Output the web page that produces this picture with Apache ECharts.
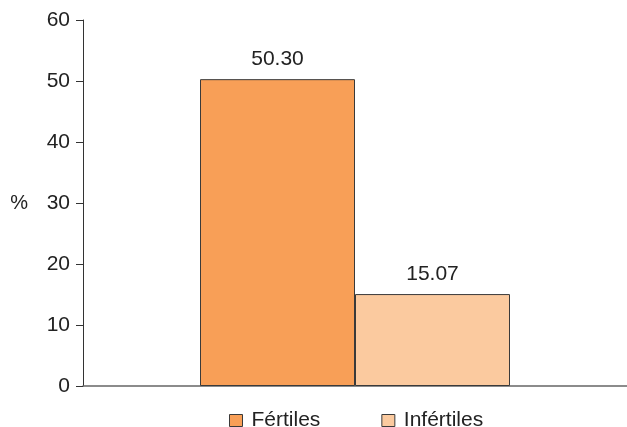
<!DOCTYPE html>
<html><head><meta charset="utf-8">
<script src="https://cdn.jsdelivr.net/npm/echarts@6/dist/echarts.min.js"></script>
<style>html,body{margin:0;padding:0;background:#fff}#c{width:627px;height:427px}</style>
</head><body><div id="c"></div>
<script>
const categories = [''];
const seriesNames = ['Fértiles', 'Infértiles'];
const fertiles = [50.30];
const infertiles = [15.07];
const yTicks = [0, 10, 20, 30, 40, 50, 60];

const font = 'Liberation Sans, Arial, sans-serif';
const chart = echarts.init(document.getElementById('c'));
chart.setOption({
  animation: false,
  grid: { left: 83, right: 0, top: 20, bottom: 41 },
  legend: {
    data: seriesNames, left: 229, top: 410, padding: 0, itemWidth: 13, itemHeight: 12, itemGap: 61,
    icon: 'rect',
    itemStyle: { borderColor: '#3a3a3a', borderWidth: 1 },
    textStyle: { fontFamily: font, fontSize: 21, color: '#222', padding: [0,0,0,4] }
  },
  xAxis: {
    type: 'category', data: categories,
    axisLine: { lineStyle: { color: '#666', width: 1.5 } },
    axisTick: { show: false }, axisLabel: { show: false }
  },
  yAxis: {
    type: 'value', min: yTicks[0], max: yTicks[yTicks.length-1], interval: 10,
    name: '%', nameLocation: 'middle', nameRotate: 0, nameGap: 55,
    nameTextStyle: { fontFamily: font, fontSize: 20, color: '#222' },
    axisLine: { show: true, lineStyle: { color: '#333', width: 1 } },
    axisTick: { show: true, length: 7, lineStyle: { color: '#333' } },
    axisLabel: { fontFamily: font, fontSize: 21, color: '#222', margin: 13 },
    splitLine: { show: false }
  },
  series: [
    { name: seriesNames[0], type: 'bar', data: fertiles, barWidth: 155, barGap: '0%',
      itemStyle: { color: '#F89F57', borderColor: '#3a3a3a', borderWidth: 1 },
      label: { show: true, position: 'top', distance: 9, formatter: p => p.value.toFixed(2), fontFamily: font, fontSize: 21, color: '#222' } },
    { name: seriesNames[1], type: 'bar', data: infertiles, barWidth: 155, barGap: '0%',
      itemStyle: { color: '#FBCA9F', borderColor: '#3a3a3a', borderWidth: 1 },
      label: { show: true, position: 'top', distance: 9, formatter: p => p.value.toFixed(2), fontFamily: font, fontSize: 21, color: '#222' } }
  ]
});
</script></body></html>
